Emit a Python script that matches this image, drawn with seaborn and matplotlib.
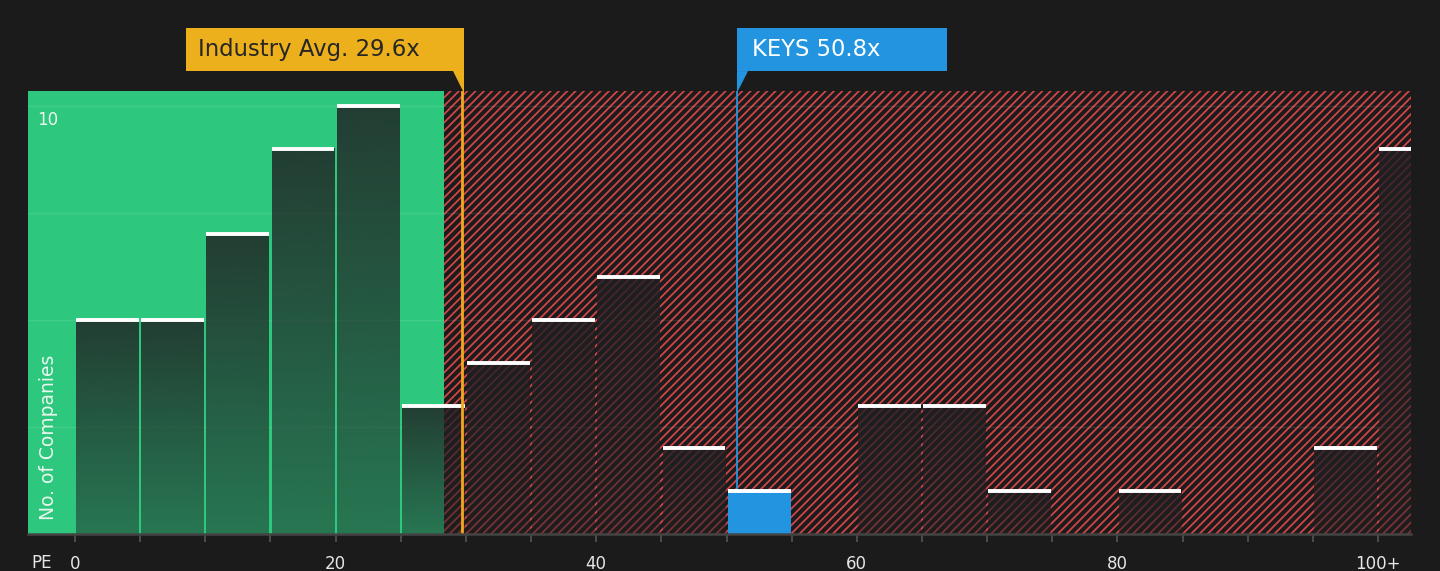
import numpy as np
import pandas as pd
import matplotlib
matplotlib.use("Agg")
from matplotlib import pyplot as plt
from matplotlib.patches import Rectangle, Polygon
import seaborn as sns

# PE histogram, bins of width 5 (last bin is 100+)
bin_starts = [0, 5, 10, 15, 20, 25, 30, 35, 40, 45, 50, 55, 60, 65, 70, 75, 80, 85, 90, 95, 100]
counts = [5, 5, 7, 9, 10, 3, 4, 5, 6, 2, 1, 0, 3, 3, 1, 0, 1, 0, 0, 2, 9]
tick_values = [0, 20, 40, 60, 80, 100]
tick_labels = ["0", "20", "40", "60", "80", "100+"]

industry_avg = 29.6
company_pe = 50.8
company_name = "KEYS"
fair_end = 28.3  # green zone ends here

BG = "#1b1b1b"
GREEN = "#2ec77e"
RED = "#cf4548"
GOLD = "#ebb01b"
ORANGE = "#f2a91c"
BLUE = "#2394df"

bin_w = 5
df = pd.DataFrame({"mid": [b + bin_w / 2 for b in bin_starts], "count": counts})

sns.set_theme(style="dark")
plt.rcParams["font.family"] = ["DejaVu Sans"]
plt.rcParams["hatch.linewidth"] = 1.3

fig = plt.figure(figsize=(14.4, 5.71), dpi=100, facecolor=BG)
ax = fig.add_axes([28 / 1440, 37 / 571, 1383 / 1440, 443 / 571])
ax.set_facecolor(BG)

xmin, xmax = -3.61, 102.53
ymax = 10.35

# zones
ax.add_patch(Rectangle((xmin, 0), fair_end - xmin, ymax, facecolor=GREEN,
                       edgecolor="none", lw=0, zorder=0))
ax.add_patch(Rectangle((fair_end, 0), xmax - fair_end, ymax, facecolor=BG,
                       edgecolor=RED, hatch="////", lw=0, zorder=0))

for g in [2.5, 5, 7.5, 10]:
    ax.axhline(g, color="white", alpha=0.09, lw=1, zorder=1)

sns.barplot(data=df, x="mid", y="count", native_scale=True, width=0.965,
            color=BG, linewidth=0, edgecolor="none", ax=ax, zorder=2)

# gradient overlay for each bar
grad = np.zeros((100, 1, 4))
grad[..., 0] = 32 / 255
grad[..., 1] = 31 / 255
grad[..., 2] = 34 / 255
grad[:, 0, 3] = np.linspace(0.82, 0.48, 100)

for patch, start, c in zip(ax.containers[0], bin_starts, counts):
    x0 = patch.get_x()
    w = patch.get_width()
    patch.set_linewidth(0)
    if c == 0:
        continue
    if start <= company_pe < start + bin_w:
        patch.set_facecolor(BLUE)
        patch.set_zorder(4)
    else:
        patch.set_facecolor("none")
        ax.imshow(grad, extent=(x0, x0 + w, 0, c), aspect="auto", zorder=2,
                  interpolation="bilinear")
    ax.hlines(c, x0, x0 + w, color="white", lw=2.8, zorder=5)

# reference lines
ax.axvline(industry_avg + 0.12, 0, 1.0, color=ORANGE, lw=2, zorder=6)
ax.plot([company_pe, company_pe], [0, ymax], color=BLUE, lw=1.3, zorder=3)

trans = ax.get_xaxis_transform()
box_lo, box_hi, tip = 1.045, 1.142, 0.996
edge = industry_avg + 0.25

# industry average label
ax.add_patch(Rectangle((8.52, box_lo), edge - 8.52, box_hi - box_lo,
                       transform=trans, facecolor=GOLD, edgecolor="none",
                       clip_on=False, zorder=7))
ax.add_patch(Polygon([(edge - 0.85, box_lo), (edge, box_lo), (edge, tip)],
                     closed=True, transform=trans, facecolor=GOLD,
                     edgecolor="none", clip_on=False, zorder=7))
ax.text(9.44, 1.093, f"Industry Avg. {industry_avg}x", transform=trans,
        fontsize=16.4, color="#262626", va="center", ha="left", zorder=8)

# company label
ax.add_patch(Rectangle((company_pe, box_lo), 66.92 - company_pe, box_hi - box_lo,
                       transform=trans, facecolor=BLUE, edgecolor="none",
                       clip_on=False, zorder=7))
ax.add_patch(Polygon([(company_pe, box_lo), (company_pe + 0.85, box_lo),
                      (company_pe, tip)], closed=True, transform=trans,
                     facecolor=BLUE, edgecolor="none", clip_on=False, zorder=7))
ax.text(51.96, 1.093, f"{company_name} {company_pe}x", transform=trans,
        fontsize=16.3, color="white", va="center", ha="left", zorder=8)

# axes styling
ax.set_xlim(xmin, xmax)
ax.set_ylim(0, ymax)
ax.set_xlabel("")
ax.set_ylabel("")
ax.set_yticks([])
ax.set_xticks(range(0, 101, 5))
ax.set_xticklabels([tick_labels[tick_values.index(t)] if t in tick_values else ""
                    for t in range(0, 101, 5)])
ax.tick_params(axis="x", bottom=True, direction="out", length=6, width=1.2,
               color="#555555", labelcolor="#e6e6e6", labelsize=12, pad=9)
for side in ["top", "right", "left"]:
    ax.spines[side].set_visible(False)
ax.spines["bottom"].set_color("#444444")
ax.spines["bottom"].set_linewidth(1.8)
ax.spines["bottom"].set_zorder(6)
ax.grid(False)

ax.text(-2.9, 9.67, "10", fontsize=12, color="#e8f7ee", va="center", ha="left", zorder=8)
ax.text(-2.07, 0.33, "No. of Companies", rotation=90, fontsize=13.5,
        color="#e8f7ee", va="bottom", ha="center", zorder=8)
fig.text(42 / 1440, 1 - 563 / 571, "PE", fontsize=12, color="#e6e6e6",
         ha="center", va="center")

fig.savefig("out.png", dpi=100, facecolor=BG)
